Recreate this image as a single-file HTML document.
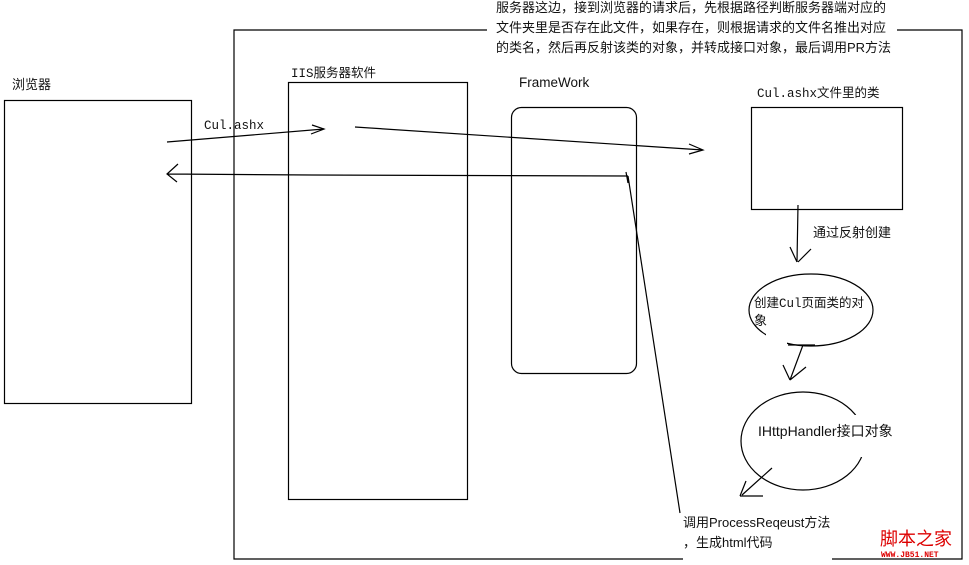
<!DOCTYPE html>
<html><head><meta charset="utf-8">
<style>
html,body{margin:0;padding:0;background:#fff;width:969px;height:565px;overflow:hidden}
svg{display:block}
.cn{font-family:"Liberation Sans","Noto Sans CJK SC",sans-serif;font-size:13px;fill:#111}
.mono{font-family:"Liberation Mono","Noto Sans CJK SC",monospace;font-size:12.5px;fill:#111}
</style></head><body>
<svg width="969" height="565" viewBox="0 0 969 565" xmlns="http://www.w3.org/2000/svg">
<g fill="none" stroke="#000" stroke-width="1.2">
<polyline points="487,30 234,30 234,559 683,559"/>
<polyline points="897,30 962,30 962,559 832,559"/>
<rect x="4.5" y="100.5" width="187" height="303"/>
<rect x="288.5" y="82.5" width="179" height="417"/>
<rect x="511.5" y="107.5" width="125" height="266" rx="10"/>
<rect x="751.5" y="107.5" width="151" height="102"/>
<ellipse cx="811" cy="310" rx="62" ry="36"/>
<ellipse cx="803" cy="441" rx="62" ry="49"/>
</g>
<g fill="#fff"><rect x="766" y="334" width="21" height="14"/><rect x="854" y="415" width="14" height="42"/></g>
<g fill="none" stroke="#000" stroke-width="1.2">
<path d="M167,142 L324,129 M312,125 L324,129 L311,134"/>
<path d="M355,127 L703,150 M689,144 L703,150 L689,154"/>
<path d="M628,176 L312,175 L168,174 M178,164 L167,174 L177,182"/>
<path d="M626,172 L628,183 M628,176 L680,513"/>
<path d="M798,205 L797,262 M790,247 L797,262 M811,249 L798,262"/>
<path d="M788,345 L815,345 M803,345 L790,380 M783,365 L790,380 M806,367 L790,380"/>
<path d="M772,468 L742,495 M740,496 L763,496 M740,496 L746,481"/>
</g>
<text class="cn" x="496" y="12">服务器这边，接到浏览器的请求后，先根据路径判断服务器端对应的</text>
<text class="cn" x="496" y="32">文件夹里是否存在此文件，如果存在，则根据请求的文件名推出对应</text>
<text class="cn" x="496" y="52">的类名，然后再反射该类的对象，并转成接口对象，最后调用PR方法</text>
<text class="cn" x="12" y="89">浏览器</text>
<text class="mono" x="291" y="77">IIS服务器软件</text>
<text class="cn" x="519" y="87" style="font-size:13.5px">FrameWork</text>
<text class="mono" x="757" y="97">Cul.ashx文件里的类</text>
<text class="mono" x="204" y="129">Cul.ashx</text>
<text class="cn" x="813" y="237">通过反射创建</text>
<text class="mono" x="754" y="307">创建Cul页面类的对</text>
<text class="cn" x="754" y="325">象</text>
<text class="cn" x="758" y="436" style="font-size:14px">IHttpHandler接口对象</text>
<text class="cn" x="683" y="527">调用ProcessReqeust方法</text>
<text class="cn" x="683" y="547">，生成html代码</text>
<text x="880" y="545" style="font-family:'Noto Sans CJK SC',sans-serif;font-size:18px;fill:#d00">脚本之家</text>
<text x="881" y="557" style="font-family:'Liberation Mono',monospace;font-size:8px;fill:#d00;font-weight:bold">WWW.JB51.NET</text>
</svg>
</body></html>
